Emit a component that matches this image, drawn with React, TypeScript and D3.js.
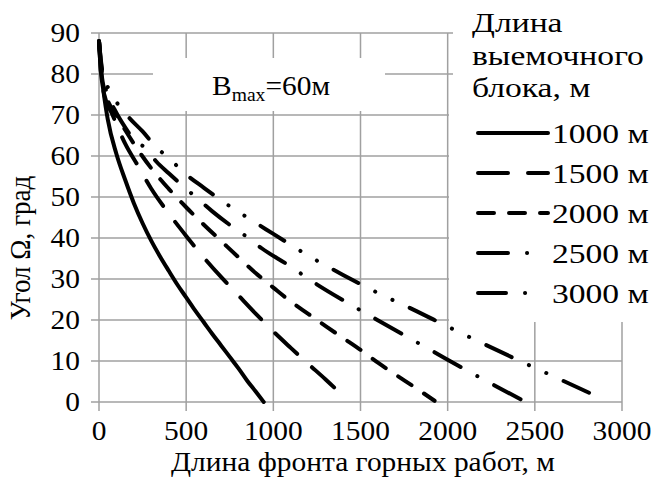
import React, { useEffect, useRef } from 'react';
import * as d3 from 'd3';

const xTicks = [0, 500, 1000, 1500, 2000, 2500, 3000];
const yTicks = [0, 10, 20, 30, 40, 50, 60, 70, 80, 90];
const legendTitle = ['Длина', 'выемочного', 'блока, м'];
const seriesNames = ['1000 м', '1500 м', '2000 м', '2500 м', '3000 м'];

// длина фронта, м / угол, град
const front1000 = [0, 10, 25, 50, 100, 150, 200, 250, 300, 350, 400, 450, 500, 550, 600, 650, 700, 750, 800, 850, 900, 945];
const angle1000 = [88, 81, 76, 69, 60.5, 54.2, 48.5, 43.6, 39.3, 35.5, 32, 28.6, 25.5, 22.4, 19.5, 16.6, 13.8, 11, 8.2, 5.2, 2.5, 0];

const front1500 = [0, 12, 30, 75, 150, 225, 300, 400, 500, 600, 700, 800, 900, 1000, 1100, 1200, 1300, 1375];
const angle1500 = [88, 80, 75, 70.3, 63, 57.5, 52, 46, 40.5, 35.3, 30.5, 26, 21.5, 17.2, 13.2, 9.3, 5.5, 2.5];

const front2000 = [0, 15, 40, 100, 200, 300, 400, 500, 600, 700, 800, 900, 1000, 1100, 1200, 1300, 1400, 1500, 1600, 1700, 1800, 1925];
const angle2000 = [88, 80, 75, 70, 63, 57, 52, 47.5, 43.3, 39.3, 35.3, 31.4, 27.9, 24.5, 21.5, 18.5, 15.6, 12.7, 9.6, 6.7, 3.9, 0.3];

const front2500 = [0, 20, 50, 100, 150, 200, 270, 330, 400, 475, 560, 650, 750, 850, 933, 1086, 1249, 1421, 1589, 1746, 1918, 2080, 2258, 2425];
const angle2500 = [88, 79.5, 75, 70.5, 67, 64, 61.8, 58.6, 55.8, 52.9, 49.8, 46.5, 43.2, 40.2, 37.5, 33.4, 28.7, 24.3, 20.2, 16.4, 12.3, 8.4, 4.3, 0.5];

const front3000 = [0, 20, 60, 120, 180, 250, 320, 400, 500, 600, 700, 850, 1000, 1200, 1400, 1600, 1800, 2000, 2200, 2400, 2600, 2860];
const angle3000 = [88, 80.5, 76, 72, 69, 66, 62.5, 59.5, 55.5, 52.3, 49.2, 45, 41, 35.7, 31, 26.6, 22.6, 18.4, 14.3, 10.3, 6.4, 1.3];

const fronts = [front1000, front1500, front2000, front2500, front3000];
const angles = [angle1000, angle1500, angle2000, angle2500, angle3000];
const dashes = [null, '30,20', '16,15', '30,19,0.1,19', '28,19,0.1,19,0.1,19'];

const W = 651;
const H = 484;
const FONT = '"Liberation Serif", "Times New Roman", serif';

// text in the picture is a bit wider than the font, hence the scale
const label = (g, px, py, str, size, sx, anchor = 'start', rot = 0) => g.append('text')
	.attr('transform', `translate(${ px },${ py }) scale(${ sx },1)${ rot ? ` rotate(${ rot })` : '' }`)
	.attr('font-size', size)
	.attr('text-anchor', anchor)
	.text(str);

const drawChart = (el) => {
	const svg = d3.select(el);
	svg.selectAll('*').remove();
	const x = d3.scaleLinear().domain([0, 3000]).range([99, 622]);
	const y = d3.scaleLinear().domain([0, 90]).range([402, 33]);

	const grid = svg.append('g').attr('stroke', '#a0a0a0').attr('stroke-width', 1.5);
	grid.selectAll('line.h').data(yTicks).enter().append('line')
		.attr('x1', 91).attr('x2', x(3000))
		.attr('y1', (d) => y(d)).attr('y2', (d) => y(d));
	grid.selectAll('line.v').data(xTicks).enter().append('line')
		.attr('x1', (d) => x(d)).attr('x2', (d) => x(d))
		.attr('y1', y(90)).attr('y2', 411);

	// white boxes of the label and the legend
	svg.append('rect').attr('x', 153).attr('y', 58).attr('width', 232).attr('height', 53).attr('fill', '#fff');
	svg.append('rect').attr('x', 453).attr('y', 0).attr('width', 198).attr('height', 100).attr('fill', '#fff');
	svg.append('rect').attr('x', 449).attr('y', 100).attr('width', 202).attr('height', 222).attr('fill', '#fff');

	const line = d3.line().x((d) => x(d[0])).y((d) => y(d[1])).curve(d3.curveMonotoneX);
	fronts.forEach((fr, i) => {
		svg.append('path')
			.datum(fr.map((v, j) => [v, angles[i][j]]))
			.attr('d', line)
			.attr('fill', 'none')
			.attr('stroke', '#000')
			.attr('stroke-width', 4)
			.attr('stroke-linecap', 'round')
			.attr('stroke-dasharray', dashes[i]);
	});

	const txt = svg.append('g').attr('font-family', FONT).attr('fill', '#000');
	yTicks.forEach((d) => label(txt, 80, y(d) + 9, d, 27, 1.09, 'end'));
	xTicks.forEach((d) => label(txt, x(d), 440, d, 27, 1.09, 'middle'));
	label(txt, 363, 471, 'Длина фронта горных работ, м', 27, 1.09, 'middle');
	label(txt, 30, 248, 'Угол Ω, град', 27, 1.09, 'middle', -90);

	const b = txt.append('text').attr('transform', 'translate(212,95) scale(1.09,1)').attr('font-size', 27);
	b.append('tspan').text('B');
	b.append('tspan').attr('font-size', 18).attr('dy', 6).text('max');
	b.append('tspan').attr('dy', -6).text('=60м');

	legendTitle.forEach((t, i) => label(txt, 472, 32 + i * 32.5, t, 28, 1.2));
	seriesNames.forEach((s, i) => {
		const cy = 133 + i * 40;
		svg.append('line')
			.attr('x1', 478).attr('x2', i > 2 ? 540 : 548)
			.attr('y1', cy).attr('y2', cy)
			.attr('stroke', '#000').attr('stroke-width', 4)
			.attr('stroke-linecap', 'round')
			.attr('stroke-dasharray', dashes[i]);
		label(txt, 552, cy + 9.5, s, 28, 1.2);
	});
};

const App = () => {
	const ref = useRef(null);

	useEffect(() => drawChart(ref.current));

	return (
		<svg ref={ ref } width={ W } height={ H } style={ { position: 'absolute', left: 0, top: 0, background: '#fff' } }/>
	);
};

export default App;
